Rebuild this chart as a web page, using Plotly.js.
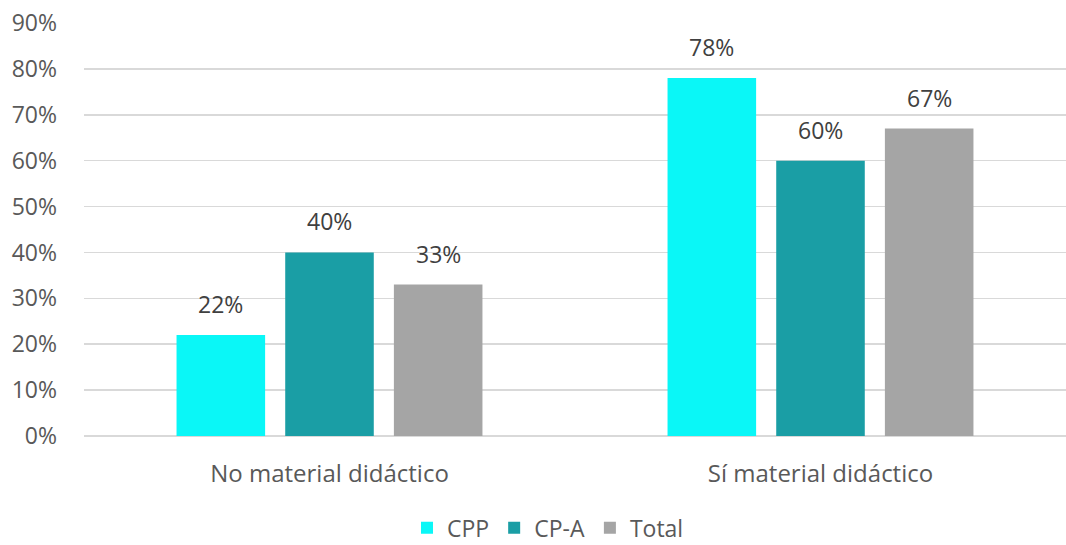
<!DOCTYPE html>
<html>
<head>
<meta charset="utf-8">
<script src="https://cdn.plot.ly/plotly-3.0.1.min.js"></script>
<style>html,body{margin:0;padding:0;background:#fff;}#chart{width:1066px;height:545px;}</style>
</head>
<body>
<div id="chart"></div>
<script>
var categories = ["No material didáctico", "Sí material didáctico"];
var seriesNames = ["CPP", "CP-A", "Total"];
var cpp = [0.22, 0.78];
var cpa = [0.40, 0.60];
var total = [0.33, 0.67];
var colors = ["#0AF7F7", "#1A9EA5", "#A5A5A5"];
var tickVals = [0, 0.1, 0.2, 0.3, 0.4, 0.5, 0.6, 0.7, 0.8, 0.9];
var tickText = ["0%", "10%", "20%", "30%", "40%", "50%", "60%", "70%", "80%", "90%"];

var values = [cpp, cpa, total];
var font = "'Open Sans', 'Noto Sans', sans-serif";
var bargap = 0.336;
var slot = (1 - bargap) / values.length;

var traces = values.map(function (v, i) {
  return {
    type: "bar",
    name: seriesNames[i],
    x: categories,
    y: v,
    marker: { color: colors[i], line: { width: 0 } },
    hoverinfo: "none"
  };
});

var annotations = [];
values.forEach(function (v, j) {
  v.forEach(function (d, i) {
    annotations.push({
      x: i + (j - (values.length - 1) / 2) * slot,
      y: d,
      xref: "x",
      yref: "y",
      text: Math.round(d * 100) + "%",
      showarrow: false,
      yanchor: "bottom",
      yshift: 13,
      font: { family: font, size: 23, color: "#404040" }
    });
  });
});

var layout = {
  width: 1066,
  height: 545,
  margin: { l: 84, r: 0, t: 23, b: 109, autoexpand: false },
  paper_bgcolor: "#fff",
  plot_bgcolor: "#fff",
  barmode: "group",
  bargap: bargap,
  bargroupgap: 0.185,
  font: { family: font, size: 23, color: "#595959" },
  annotations: annotations,
  xaxis: {
    type: "category",
    showgrid: false,
    showline: false,
    zeroline: false,
    ticks: "",
    tickfont: { family: font, size: 24, color: "#595959" },
    ticklabelstandoff: 21
  },
  yaxis: {
    range: [0, 0.9],
    tickvals: tickVals,
    ticktext: tickText,
    showgrid: true,
    gridcolor: "#D9D9D9",
    gridwidth: 1.5,
    zeroline: true,
    zerolinecolor: "#D9D9D9",
    zerolinewidth: 1.5,
    showline: false,
    ticks: "",
    tickfont: { family: font, size: 23, color: "#595959" },
    ticklabelstandoff: 26
  },
  showlegend: true,
  legend: {
    orientation: "h",
    xref: "paper",
    x: 0.4725,
    xanchor: "center",
    yref: "paper",
    y: -0.222,
    yanchor: "middle",
    font: { family: font, size: 23, color: "#595959" },
    traceorder: "normal"
  }
};

Plotly.newPlot("chart", traces, layout, { staticPlot: true, displayModeBar: false });
</script>
</body>
</html>
